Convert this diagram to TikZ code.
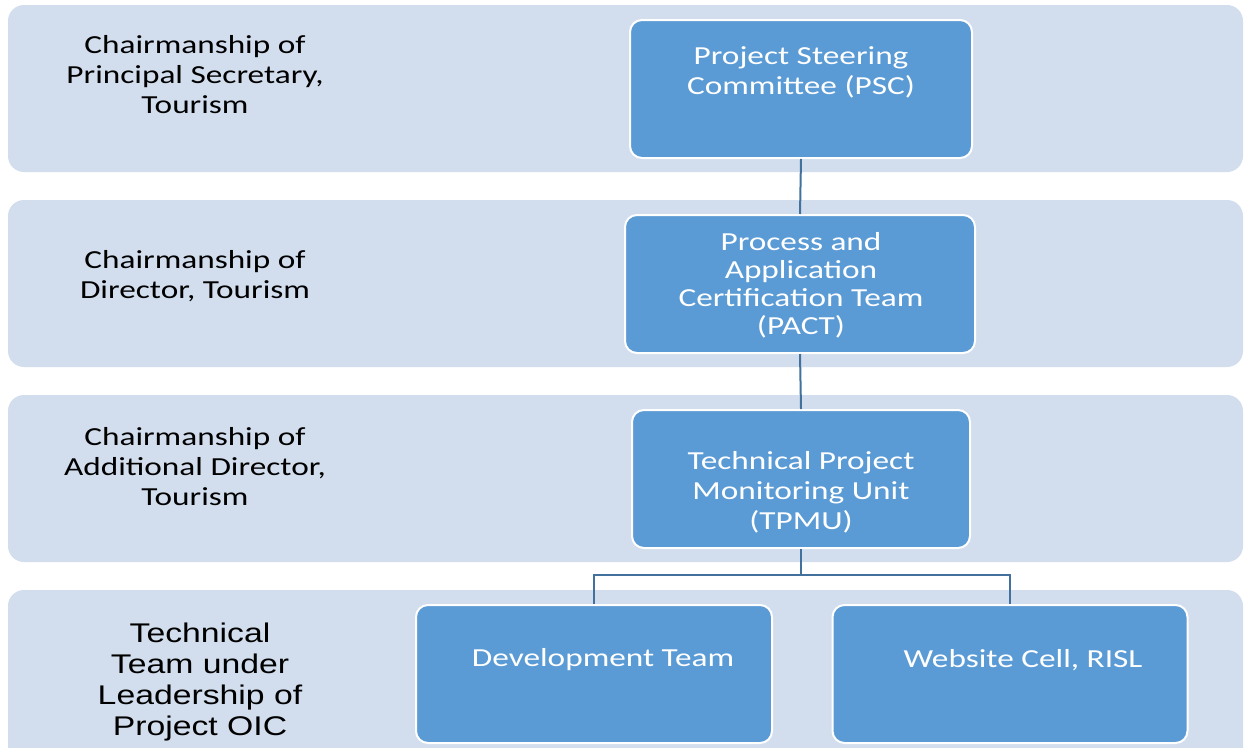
\documentclass[tikz,border=0pt]{standalone}
\usepackage{fontspec}
\newfontfamily\calfont{Carlito}[FakeStretch=1.28]
\newfontfamily\arlfont{Liberation Sans}[FakeStretch=1.25]
\definecolor{bandfill}{RGB}{210,222,237}
\definecolor{boxfill}{RGB}{91,155,213}
\definecolor{linecol}{RGB}{65,113,156}
\begin{document}
\begin{tikzpicture}[x=1pt,y=-1pt,
  band/.style={fill=bandfill, draw=none, rounded corners=16pt},
  unitbox/.style={fill=boxfill, draw=white, line width=2pt, rounded corners=12pt, inner sep=0pt},
  boxtext/.style={text=white, align=center, font=\calfont\fontsize{26}{30}\selectfont, inner sep=0pt},
  sidetext/.style={text=black, align=center, font=\calfont\fontsize{26}{30}\selectfont, inner sep=0pt},
  armtext/.style={text=black, align=center, font=\arlfont\fontsize{27}{31}\selectfont, inner sep=0pt},
  link/.style={draw=linecol, line width=2pt}]
\useasboundingbox (0,0) rectangle (1244,747);
\fill[white] (0,0) rectangle (1244,747);
% bands
\fill[band] (8,5) rectangle (1243,172);
\fill[band] (8,200) rectangle (1243,367);
\fill[band] (8,395) rectangle (1243,562);
\fill[band] (8,590) rectangle (1243,765);
% side labels
\node[sidetext] (s1) at (195,75) {Chairmanship of\\Principal Secretary,\\Tourism};
\node[sidetext] (s2) at (195,276) {Chairmanship of\\Director, Tourism};
\node[sidetext] (s3) at (195,467) {Chairmanship of\\Additional Director,\\Tourism};
\node[armtext] (s4) at (200,682) {Technical\\Team under\\Leadership of\\Project OIC};
% boxes
\node[unitbox, minimum width=342pt, minimum height=138pt] (psc) at (801,89) {};
\node[unitbox, minimum width=350pt, minimum height=138pt] (pact) at (800,284) {};
\node[unitbox, minimum width=338pt, minimum height=138pt] (tpmu) at (801,479) {};
\node[unitbox, minimum width=356pt, minimum height=138pt] (dev) at (594,674) {};
\node[unitbox, minimum width=355pt, minimum height=138pt] (web) at (1010,674) {};
% box texts
\node[boxtext] (tpsc) at (801,72) {Project Steering\\Committee (PSC)};
\node[boxtext, font=\calfont\fontsize{26}{28}\selectfont] (tpact) at (801,285) {Process and\\Application\\Certification Team\\(PACT)};
\node[boxtext] (ttpmu) at (801,492) {Technical Project\\Monitoring Unit\\(TPMU)};
\node[boxtext] (tdev) at (603,660) {Development Team};
\node[boxtext] (tweb) at (1023,660) {Website Cell, RISL};
% connectors
\coordinate (bus) at (801,575);
\draw[link] (psc.south) -- (pact.north);
\draw[link] (pact.south) -- (tpmu.north);
\draw[link] (tpmu.south) -- (bus);
\draw[link] (bus) -| (dev.north);
\draw[link] (bus) -| (web.north);
\end{tikzpicture}
\end{document}
